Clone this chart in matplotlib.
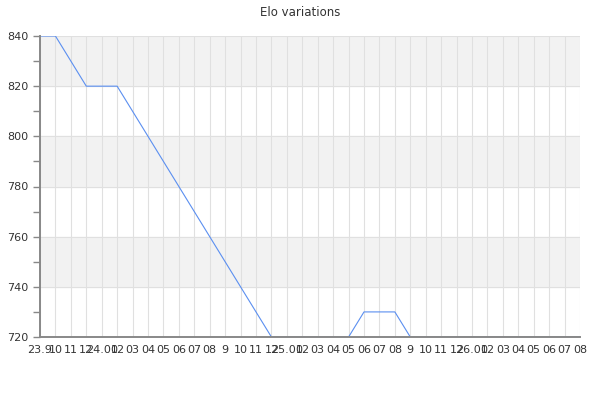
import matplotlib
matplotlib.use("Agg")
import matplotlib.pyplot as plt
from matplotlib.ticker import MultipleLocator

tick_labels = ["23.9", "10", "11", "12", "24.01", "02", "03", "04", "05", "06", "07", "08", "9",
               "10", "11", "12", "25.01", "02", "03", "04", "05", "06", "07", "08", "9",
               "10", "11", "12", "26.01", "02", "03", "04", "05", "06", "07", "08"]
elo = [840, 840, 830, 820, 820, 820, 810, 800, 790, 780, 770, 760, 750, 740, 730, 720,
       720, 720, 720, 720, 720, 730, 730, 730, 720, 720, 720, 720, 720, 720, 720, 720,
       720, 720, 720, 720]

fig = plt.figure(figsize=(6, 4), dpi=100)
ax = fig.add_axes([40/600, 63/400, 540/600, 301/400])
x = list(range(len(elo)))

# alternating bands
for lo in (740, 780, 820):
    ax.axhspan(lo, lo + 20, color="#f2f2f2", zorder=0)

ax.plot(x, elo, color="#5b8ff0", linewidth=0.8, zorder=2)

ax.set_xlim(0, len(elo) - 1)
ax.set_ylim(720, 840)
ax.set_xticks(x)
ax.set_xticklabels(tick_labels)
ax.yaxis.set_major_locator(MultipleLocator(20))
ax.yaxis.set_minor_locator(MultipleLocator(10))
ax.grid(True, which="major", color="#e0e0e0", linewidth=0.8)
ax.set_axisbelow(True)

for s in ("top", "right"):
    ax.spines[s].set_visible(False)
for s in ("left", "bottom"):
    ax.spines[s].set_color("#888888")
    ax.spines[s].set_linewidth(1.4)
    ax.spines[s].set_zorder(5)

ax.tick_params(axis="x", length=0, labelsize=8, colors="#333333", pad=6)
ax.tick_params(axis="y", which="major", length=5, width=1.0, color="#888888", labelsize=8, labelcolor="#333333")
ax.tick_params(axis="y", which="minor", length=5, width=1.0, color="#888888")

fig.suptitle("Elo variations", fontsize=8.5, color="#333333", y=1 - 12/400, va="center")

fig.savefig("out.png", dpi=100)
